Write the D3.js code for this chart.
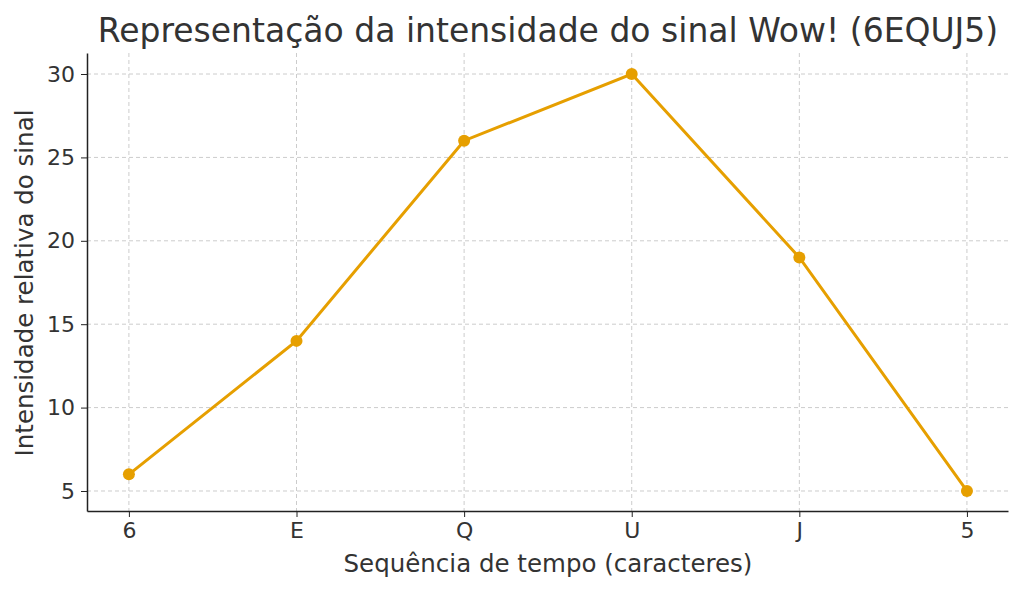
<!DOCTYPE html>
<html><head><meta charset="utf-8">
<script src="https://cdn.jsdelivr.net/npm/d3@7"></script>
<style>body{margin:0;background:#fff}text{font-family:"DejaVu Sans",sans-serif;fill:#333}</style>
</head><body>
<svg id="c" width="1024" height="592"></svg>
<script>
const categories=["6","E","Q","U","J","5"];
const values=[6,14,26,30,19,5];
const yTicks=[5,10,15,20,25,30];
const svg=d3.select("#c");
const L=87,R=1008,T=53,B=511;
const x=d3.scaleLinear().domain([-0.25,5.245]).range([L,R]);
const y=d3.scaleLinear().domain([3.8,31.26]).range([B,T]);
const g=svg.append("g");
g.selectAll(".vg").data(categories).join("line").attr("x1",(d,i)=>x(i)).attr("x2",(d,i)=>x(i)).attr("y1",T).attr("y2",B).attr("stroke","#ccc").attr("stroke-dasharray","4,3");
g.selectAll(".hg").data(yTicks).join("line").attr("x1",L).attr("x2",R).attr("y1",d=>y(d)).attr("y2",d=>y(d)).attr("stroke","#ccc").attr("stroke-dasharray","4,3");
const xa=svg.append("g").attr("transform",`translate(0,${B})`).call(d3.axisBottom(x).tickValues(d3.range(categories.length)).tickFormat(i=>categories[i]).tickSize(6).tickPadding(5).tickSizeOuter(0));
const ya=svg.append("g").attr("transform",`translate(${L},0)`).call(d3.axisLeft(y).tickValues(yTicks).tickSize(6).tickPadding(6).tickSizeOuter(0));
[xa,ya].forEach(a=>{a.selectAll("text").attr("font-size",22).attr("fill","#333").style("font-family","DejaVu Sans");a.select(".domain").attr("stroke","#222").attr("stroke-width",1.5);a.selectAll(".tick line").attr("stroke","#222");});
const line=d3.line().x((d,i)=>x(i)).y(d=>y(d));
svg.append("path").datum(values).attr("d",line).attr("fill","none").attr("stroke","#E69F00").attr("stroke-width",3);
svg.selectAll(".pt").data(values).join("circle").attr("cx",(d,i)=>x(i)).attr("cy",d=>y(d)).attr("r",6).attr("fill","#E69F00");
svg.append("text").attr("x",548).attr("y",42).attr("text-anchor","middle").attr("font-size",33).text("Representação da intensidade do sinal Wow! (6EQUJ5)");
svg.append("text").attr("x",548).attr("y",572).attr("text-anchor","middle").attr("font-size",24.5).text("Sequência de tempo (caracteres)");
svg.append("text").attr("transform","translate(33,283) rotate(-90)").attr("text-anchor","middle").attr("font-size",24.5).text("Intensidade relativa do sinal");
</script></body></html>
